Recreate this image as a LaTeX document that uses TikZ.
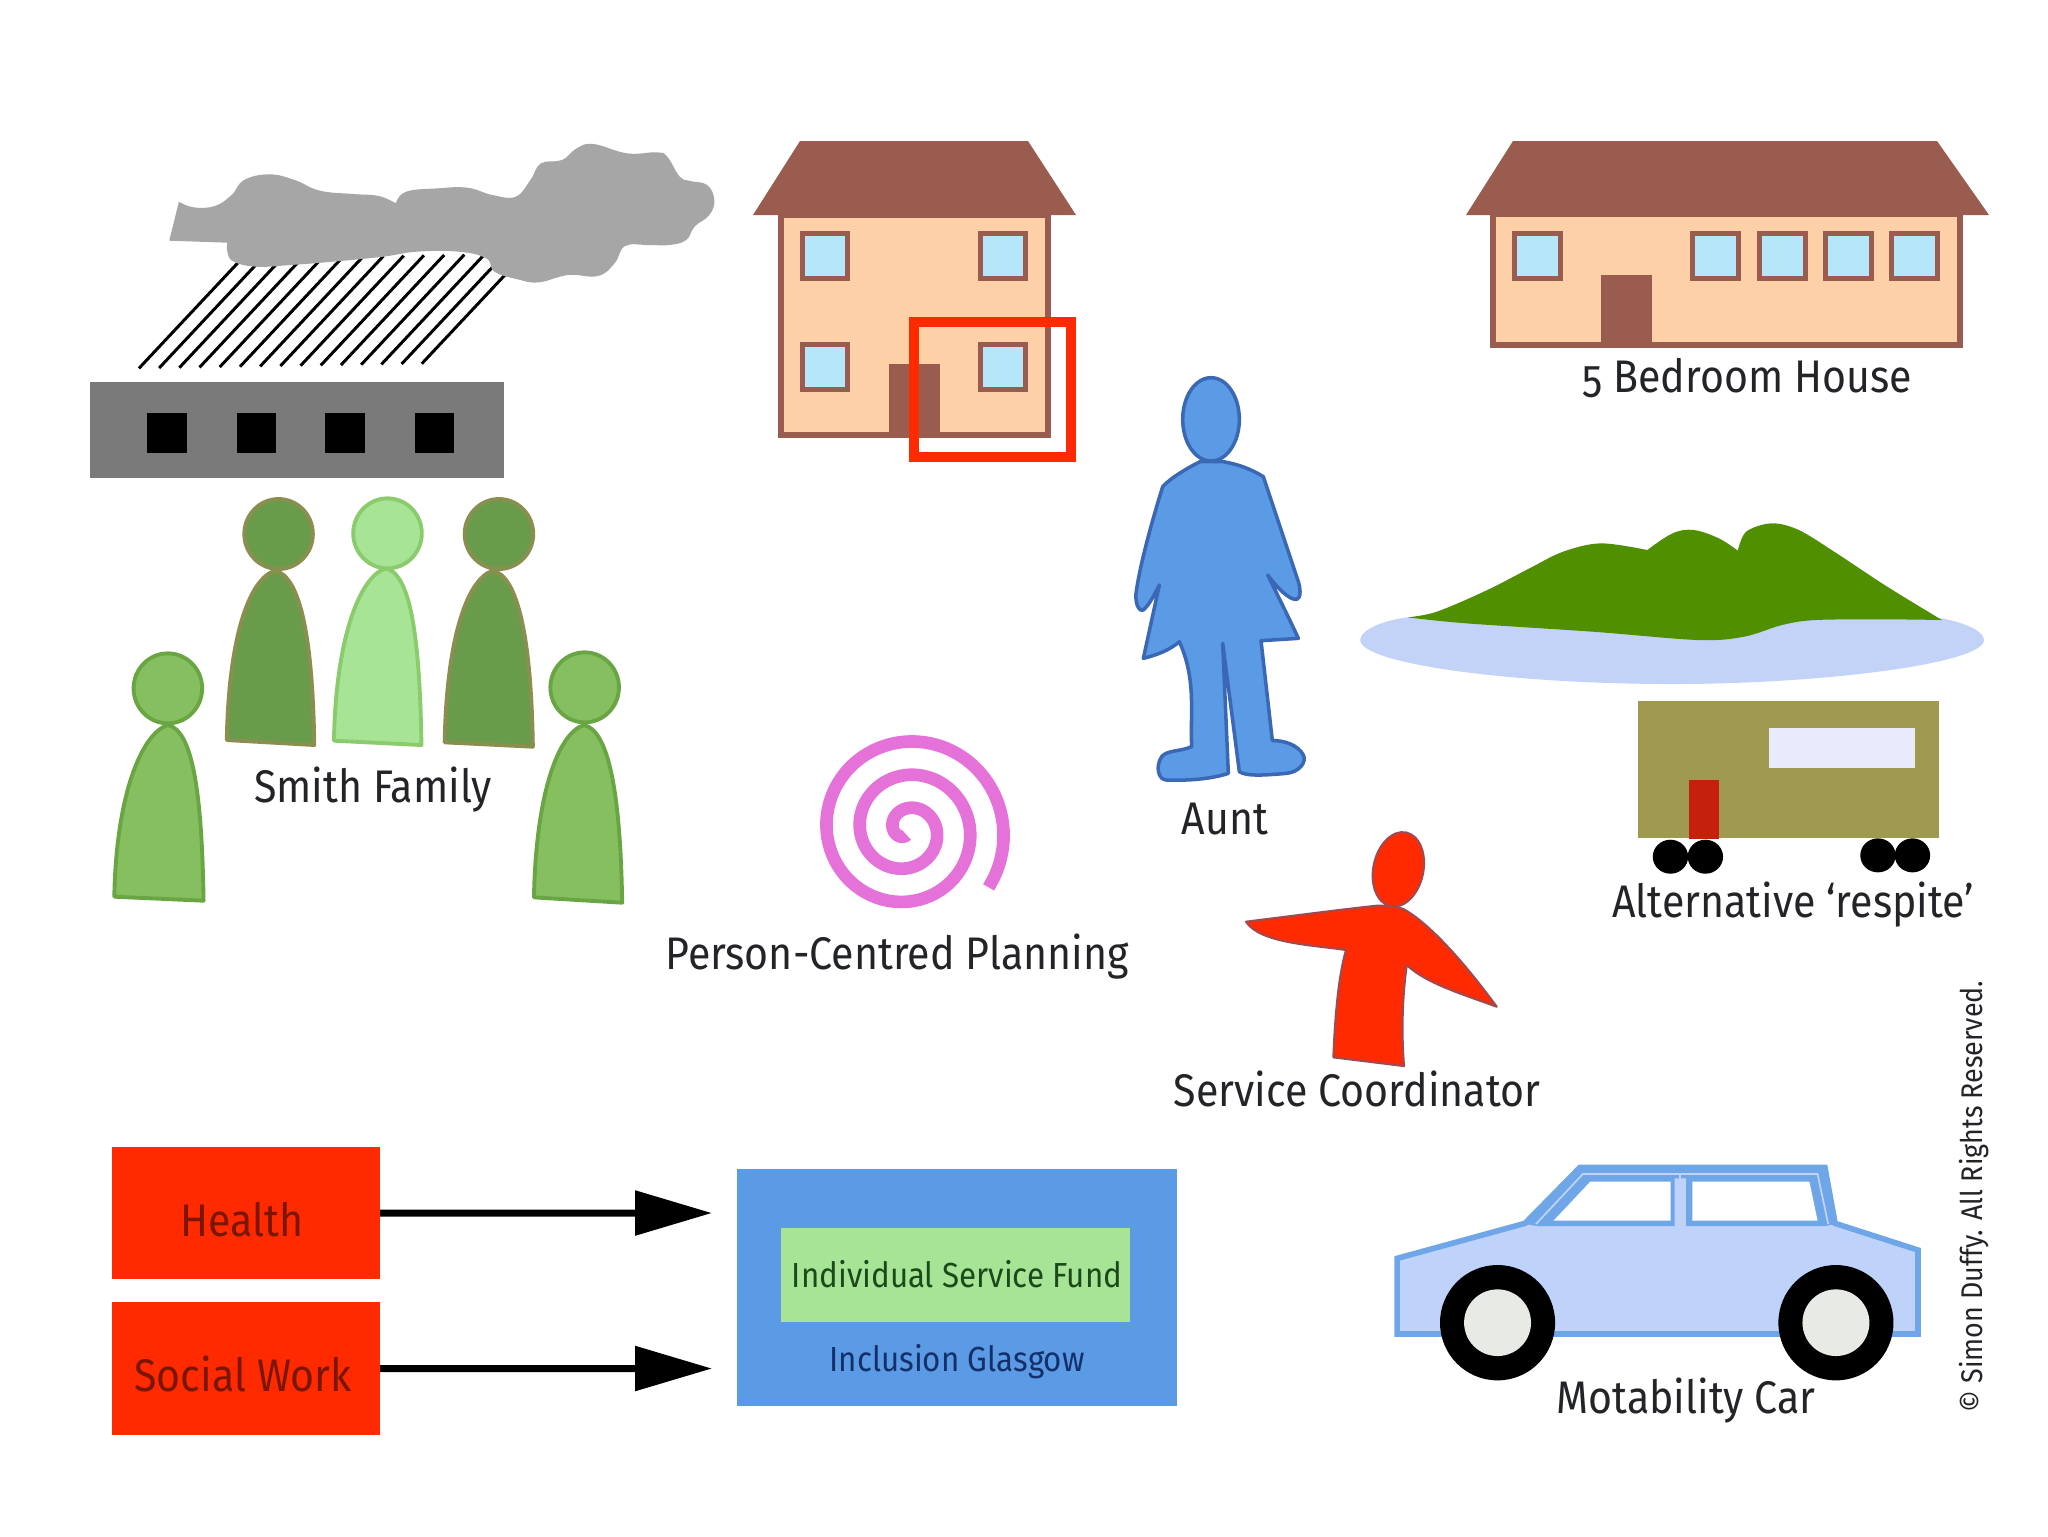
\documentclass[tikz,border=0pt]{standalone}
\usepackage{fontspec}
\setmainfont{Fira Sans}[Numbers=OldStyle,FakeStretch=0.9]
\usetikzlibrary{arrows.meta}
\definecolor{redbox}{HTML}{FF2A00}
\definecolor{bluefill}{HTML}{5B9AE4}
\definecolor{blueedge}{HTML}{3A68B4}
\definecolor{greenbox}{HTML}{A8E496}
\definecolor{brown1}{HTML}{9A5C4E}
\definecolor{wall}{HTML}{FED0A8}
\definecolor{pane}{HTML}{B5E6FA}
\definecolor{midgreen}{HTML}{86BF5F}
\definecolor{midedge}{HTML}{6AA544}
\definecolor{darkgreen}{HTML}{689C4A}
\definecolor{darkedge}{HTML}{8A8F50}
\definecolor{lightedge}{HTML}{8ACB6C}
\definecolor{cloudgrey}{HTML}{A6A6A6}
\definecolor{blockgrey}{HTML}{7A7A7A}
\definecolor{lake}{HTML}{C3D3F8}
\definecolor{land}{HTML}{4F8F00}
\definecolor{van}{HTML}{A09A50}
\definecolor{vanpane}{HTML}{E8EBFB}
\definecolor{vandoor}{HTML}{C4200C}
\definecolor{carbody}{HTML}{BFD2FA}
\definecolor{caredge}{HTML}{6FA6E8}
\definecolor{hub}{HTML}{E8EAE6}
\definecolor{spiral}{HTML}{E472D8}
\definecolor{ink}{HTML}{222428}
\definecolor{coordedge}{HTML}{A04A50}
\definecolor{navytext}{HTML}{14306A}
\definecolor{greentext}{HTML}{1A4A1A}
\definecolor{redtext}{HTML}{7A1500}
\tikzset{
  zs/.style n args={3}{shift={(#1,#2)},x=#3,y=-0.094843pt},
  lab/.style={anchor=base,inner sep=0pt,font=\fontsize{13}{15}\selectfont,text=ink},
  smalllab/.style={anchor=base,inner sep=0pt,font=\fontsize{9.9}{12}\selectfont},
  boxnode/.style={anchor=north west,inner sep=0pt,outer sep=0pt},
  fundarrow/.style={line width=2pt,-{Triangle[length=21.9pt,width=12.4pt]}},
  windowbox/.style={draw=brown1,line width=1.4pt,fill=pane},
  wallbox/.style={draw=brown1,line width=1.7pt,fill=wall},
}
\begin{document}
\begin{tikzpicture}[x=0.28453pt,y=-0.28453pt]
\useasboundingbox (0,0) rectangle (2048,1536);
\fill[white] (0,0) rectangle (2048,1536);

% rain, cloud, block
\begin{scope}[zs={80}{120}{0.11976pt}]
  \foreach \i in {0,...,14}
    \draw[black,line width=0.85pt] ({140+48*\i},{745-\i}) -- ++(245,-330);
  \fill[cloudgrey] plot[smooth,tension=0.7] coordinates {(350,368)(350,395)(365,425)(420,440)(500,435)(600,425)(720,410)(800,395)(900,395)(965,415)(985,455)(1040,478)(1090,487)(1160,465)(1230,468)(1270,430)(1295,378)(1350,375)(1400,375)(1440,360)(1460,320)(1495,285)(1507,240)(1490,195)(1450,183)(1425,170)(1395,110)(1370,97)(1300,100)(1220,72)(1180,85)(1145,120)(1095,130)(1070,180)(1035,230)(980,225)(920,203)(850,205)(775,215)(750,250)}
    -- plot[smooth,tension=0.7] coordinates {(750,250)(710,228)(650,222)(570,212)(510,180)(450,163)(390,180)(360,225)(320,258)(270,262)(235,245)}
    -- (212,362) -- cycle;
\end{scope}
\fill[blockgrey] (90,382) rectangle (504,478);
\foreach \xa/\xb in {146.5/186.5,236.5/276,325/365,415/454}
  \fill[black] (\xa,413) rectangle (\xb,453);

% family
\begin{scope}[zs={100}{480}{0.10162pt}]
  \foreach \tx/\ty/\lx/\ly/\rx/\ry/\hx/\hy/\fc/\ec in {
    490/272/355/780/600/795/500/162/darkgreen/darkedge,
    800/265/655/782/900/795/805/160/greenbox/lightedge,
    1100/272/965/787/1212/800/1117/162/darkgreen/darkedge,
    190/735/40/1250/290/1262/190/625/midgreen/midedge,
    1355/735/1215/1252/1462/1268/1357/622/midgreen/midedge}
  {
    \draw[fill=\fc,draw=\ec,line width=1.1pt,line join=round]
      (\lx,\ly) .. controls ({\lx+5},{\ly-300}) and ({\tx-75},{\ty+25}) .. (\tx,\ty)
      .. controls ({\tx+65},{\ty+15}) and ({\rx-5},{\ry-350}) .. (\rx,\ry) -- cycle;
    \draw[fill=\fc,draw=\ec,line width=1.1pt] (\hx,\hy) ellipse [x radius=96,y radius=105];
  }
\end{scope}
\node[lab] (smith) at (373,802) {Smith Family};

% two-storey house
\draw[wallbox] (781,215) rectangle (1048,435);
\foreach \xa in {802.5,980.5}
  \foreach \ya in {233.5,344.5}
    \draw[windowbox] (\xa,\ya) rectangle ++(45,45);
\fill[brown1] (889,364) rectangle (940,437);
\fill[brown1] (800,141) -- (1028,141) -- (1076,215) -- (753,215) -- cycle;
\draw[redbox,line width=2.85pt] (914,322) rectangle (1071,457);

% five-bedroom house
\draw[wallbox] (1493,214) rectangle (1960,345);
\foreach \xa in {1514.5,1692.5,1759.5,1825.5,1891.5}
  \draw[windowbox] (\xa,233.5) rectangle ++(46,45);
\fill[brown1] (1601,275) rectangle (1652,348);
\fill[brown1] (1513,141) -- (1937,141) -- (1989,215) -- (1466,215) -- cycle;
\node[lab] (bedroom) at (1747,392) {5 Bedroom House};

% aunt
\begin{scope}[zs={1100}{360}{0.094843pt}]
  \draw[fill=bluefill,draw=blueedge,line width=1pt,line join=round]
   (300,305) .. controls (260,325) and (210,355) .. (188,380)
   .. controls (160,470) and (120,610) .. (108,700)
   .. controls (105,745) and (125,760) .. (135,745)
   .. controls (150,730) and (165,700) .. (178,675)
   -- (130,895)
   .. controls (170,885) and (210,870) .. (238,845)
   .. controls (290,960) and (270,1060) .. (275,1160)
   .. controls (240,1175) and (200,1170) .. (185,1190)
   .. controls (165,1220) and (175,1260) .. (200,1260)
   .. controls (260,1262) and (330,1258) .. (385,1240)
   -- (368,850) -- (418,1235)
   .. controls (440,1250) and (500,1245) .. (560,1240)
   .. controls (600,1235) and (620,1205) .. (610,1185)
   .. controls (595,1155) and (550,1140) .. (517,1142)
   -- (483,842) -- (595,835)
   .. controls (565,770) and (530,700) .. (503,645)
   .. controls (530,680) and (565,720) .. (590,718)
   .. controls (605,715) and (600,680) .. (595,665)
   .. controls (560,560) and (520,440) .. (490,350)
   .. controls (450,325) and (410,312) .. (370,305) -- cycle;
  \draw[fill=bluefill,draw=blueedge,line width=1pt] (333,178) ellipse [x radius=85,y radius=125];
\end{scope}
\node[lab] (aunt) at (1225,834) {Aunt};

% service coordinator
\begin{scope}[zs={1220}{810}{0.094843pt}]
  \draw[fill=redbox,draw=coordedge,line width=0.6pt,line join=round]
   (78,335) .. controls (200,320) and (350,300) .. (470,287)
   .. controls (510,285) and (530,290) .. (550,297)
   .. controls (620,335) and (720,440) .. (830,590)
   .. controls (720,550) and (620,520) .. (560,465)
   .. controls (545,580) and (545,680) .. (552,768)
   -- (340,742)
   .. controls (345,620) and (355,500) .. (378,420)
   .. controls (280,405) and (120,400) .. (78,335) -- cycle;
  \draw[fill=redbox,draw=coordedge,line width=0.6pt,shift={(535,178)},rotate=-12]
     (0,0) ellipse [x radius=75,y radius=113];
\end{scope}
\node[lab] (coord) at (1357,1106) {Service Coordinator};

% spiral
\begin{scope}[zs={800}{720}{0.094843pt}]
  \draw[spiral,line width=3.6pt] plot[domain=0:1025,samples=180,smooth]
    ({320-(15+0.278*\x)*sin(\x)},{330+(15+0.278*\x)*cos(\x)});
\end{scope}
\node[lab] (pcp) at (897,969) {Person-Centred Planning};

% island and caravan
\begin{scope}[zs={1340}{500}{0.11976pt}]
  \fill[lake] (48,420) .. controls (50,385) and (110,360) .. (160,352) -- (1430,355)
    .. controls (1490,370) and (1530,395) .. (1530,420)
    .. controls (1530,490) and (1150,552) .. (790,552)
    .. controls (400,552) and (48,490) .. (48,420) -- cycle;
  \fill[land] plot[smooth,tension=0.55] coordinates {(160,352)(230,335)(350,270)(450,205)(530,155)(620,130)(730,150)}
    -- plot[smooth,tension=0.6] coordinates {(730,150)(790,100)(840,90)(900,115)(945,152)}
    -- plot[smooth,tension=0.55] coordinates {(945,152)(965,95)(1025,70)(1090,90)(1180,160)(1300,260)(1430,360)}
    -- plot[smooth,tension=0.55] coordinates {(1430,360)(1300,358)(1130,360)(1050,375)(960,410)(850,420)(600,395)(300,370)(160,352)} -- cycle;
  \fill[van] (708,604) rectangle (1423,1015);
  \fill[vanpane] (1020,685) rectangle (1365,803);
  \fill[vandoor] (828,840) rectangle (900,1018);
  \foreach \cx/\cy in {785/1070,868/1070,1278/1066,1360/1066}
    \fill[black] (\cx,\cy) ellipse [x radius=42,y radius=51];
\end{scope}
\node[lab] (respite) at (1793,917) {Alternative ‘respite’};

% car
\begin{scope}[zs={1380}{1150}{0.11613pt}]
  \draw[fill=carbody,draw=caredge,line width=1.6pt,line join=miter]
    (42,552) -- (42,325) -- (355,220) -- (490,52) -- (1090,52) -- (1115,220) -- (1318,300) -- (1318,552) -- cycle;
  \fill[caredge] (355,222) -- (490,52) -- (1090,52) -- (1115,222) -- (1090,228) -- (750,228) -- (750,85) -- (722,85) -- (722,228) -- (385,228) -- cycle;
  \draw[carbody,line width=0.5pt] (382,222) -- (497,72) -- (1072,72) -- (1098,222);
  \draw[carbody,line width=0.5pt] (735,75) -- (735,225);
  \fill[white] (425,212) -- (515,95) -- (712,95) -- (712,212) -- cycle;
  \fill[white] (765,95) -- (1052,95) -- (1072,212) -- (765,212) -- cycle;
  \foreach \cx in {288,1117} {
    \fill[black] (\cx,518) ellipse [x radius=141,y radius=173];
    \fill[hub] (\cx,518) ellipse [x radius=82,y radius=100];
  }
\end{scope}
\node[lab] (car) at (1686,1413) {Motability Car};

% copyright
\node[anchor=base west,inner sep=0pt,rotate=90,font=\fontsize{8.5}{10}\selectfont,text=ink] (copy) at (1982,1413) {© Simon Duffy. All Rights Reserved.};

% funding boxes
\node[boxnode,fill=redbox,minimum width=76.26pt,minimum height=37.56pt] (health) at (112,1147) {};
\node[boxnode,fill=redbox,minimum width=76.26pt,minimum height=37.84pt] (social) at (112,1302) {};
\node[boxnode,fill=bluefill,minimum width=125.2pt,minimum height=67.4pt] (ilf) at (737,1169) {};
\node[boxnode,fill=greenbox,minimum width=99.3pt,minimum height=26.75pt] (isf) at (781,1228) {};
\node[lab,text=redtext] (healthlab) at (242,1236) {Health};
\node[lab,text=redtext] (sociallab) at (243,1391) {Social Work};
\node[smalllab,text=greentext] (isflab) at (957,1287) {Individual Service Fund};
\node[smalllab,text=navytext] (ilflab) at (957,1371) {Inclusion Glasgow};
\coordinate (healthend) at (712,1213);
\coordinate (socialend) at (712,1368.5);
\draw[fundarrow] (health.east) -- (healthend);
\draw[fundarrow] (social.east) -- (socialend);
\end{tikzpicture}
\end{document}
